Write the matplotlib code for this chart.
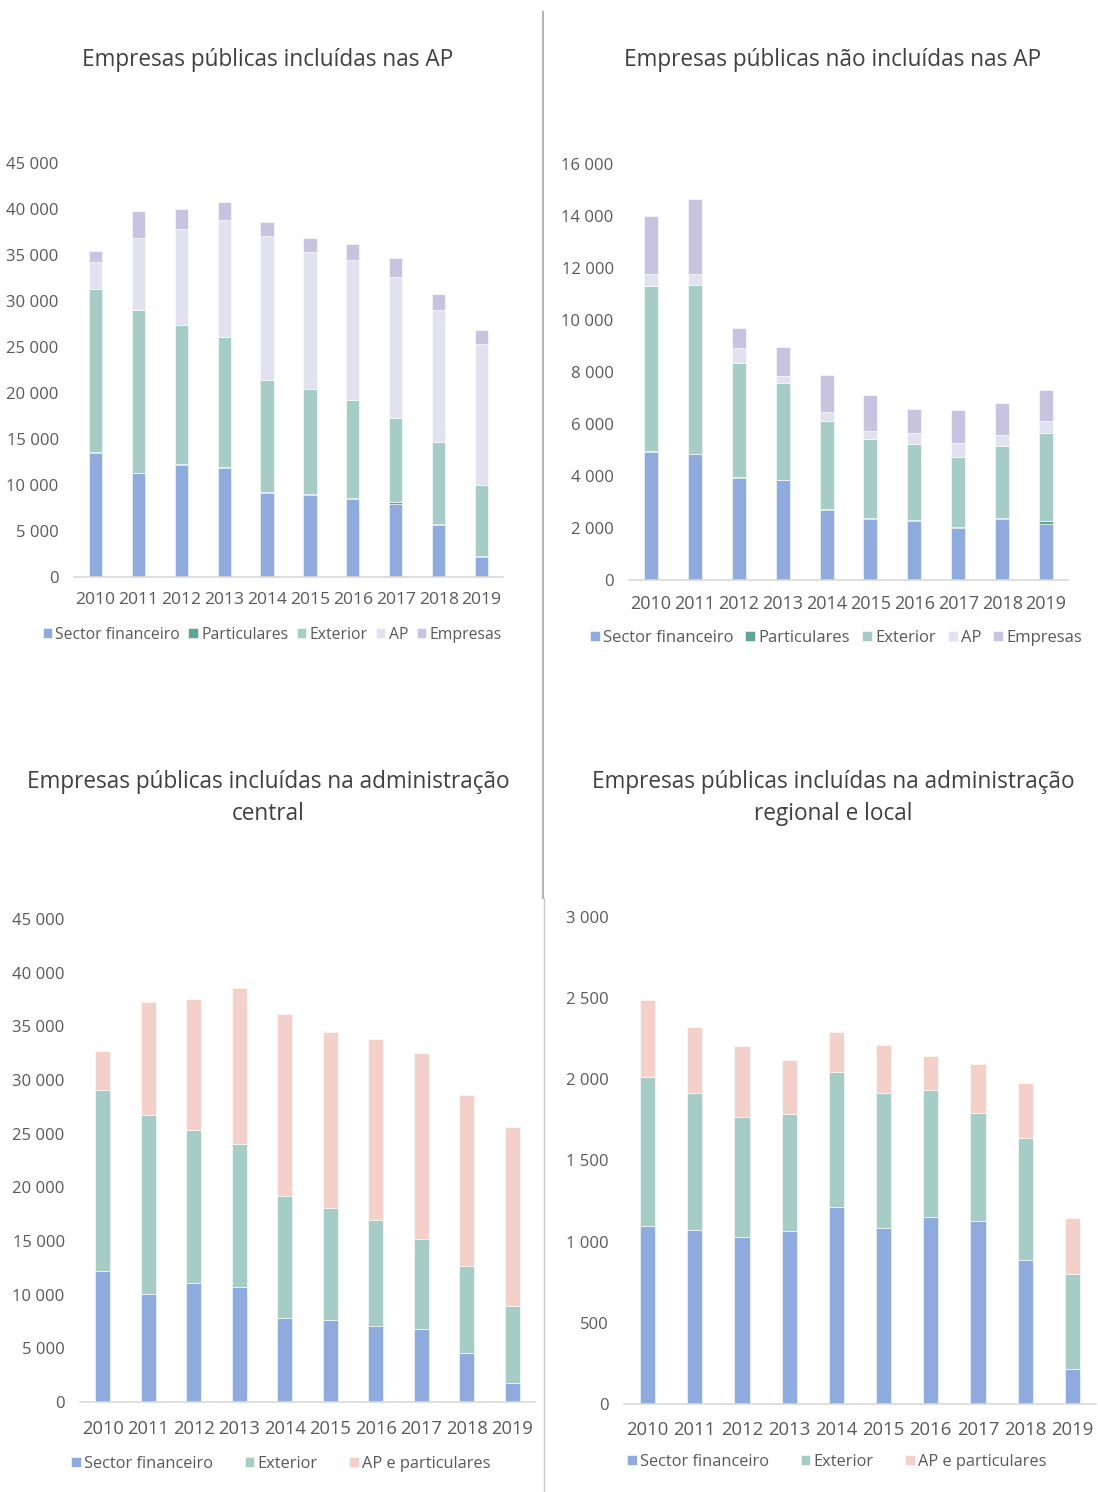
import matplotlib
matplotlib.use('Agg')
import matplotlib.pyplot as plt
from matplotlib.ticker import FuncFormatter, MultipleLocator
import numpy as np

#%% Data (values in units)
years = ['2010', '2011', '2012', '2013', '2014', '2015', '2016', '2017', '2018', '2019']

# Empresas públicas incluídas nas AP
ap_sector_fin = [13520, 11270, 12180, 11890, 9090, 8870, 8470, 7920, 5630, 2180]
ap_particulares = [50, 50, 150, 50, 140, 180, 110, 260, 110, 110]
ap_exterior = [17710, 17650, 15010, 14200, 12220, 11380, 10610, 9120, 8950, 7710]
ap_ap = [2940, 7930, 10460, 12650, 15590, 14870, 15310, 15300, 14310, 15370]
ap_empresas = [1170, 2900, 2150, 1960, 1600, 1560, 1700, 2100, 1720, 1490]

# Empresas públicas não incluídas nas AP
nap_sector_fin = [4940, 4850, 3910, 3850, 2710, 2360, 2270, 2000, 2360, 2140]
nap_particulares = [10, 10, 50, 10, 10, 10, 50, 30, 10, 120]
nap_exterior = [6360, 6490, 4400, 3700, 3410, 3050, 2910, 2710, 2780, 3380]
nap_ap = [460, 420, 550, 290, 330, 320, 420, 520, 410, 460]
nap_empresas = [2220, 2880, 800, 1100, 1410, 1380, 940, 1280, 1250, 1210]

# Administração central
ac_sector_fin = [12250, 10070, 11090, 10700, 7780, 7640, 7110, 6800, 4540, 1760]
ac_exterior = [16800, 16690, 14230, 13350, 11370, 10390, 9890, 8410, 8100, 7150]
ac_ap_part = [3630, 10530, 12220, 14510, 16980, 16410, 16800, 17330, 15920, 16690]

# Administração regional e local
arl_sector_fin = [1097, 1074, 1027, 1065, 1214, 1083, 1151, 1128, 887, 215]
arl_exterior = [920, 843, 740, 721, 834, 834, 785, 665, 752, 588]
arl_ap_part = [474, 404, 437, 334, 242, 296, 210, 304, 341, 341]

#%% Style
plt.rcParams['font.family'] = ['Open Sans', 'DejaVu Sans']
txt = '#595959'
ttl = '#404040'
c_sf = '#8faadc'
c_part = '#5fa597'
c_ext = '#a5cdc6'
c_ap = '#e2e1ef'
c_emp = '#c8c3de'
c_app = '#f4d0cb'

W, H = 1098, 1492
fig = plt.figure(figsize=(W / 100, H / 100), dpi=100)


def px_axes(x0, x1, y_top, y_bot):
    return fig.add_axes([x0 / W, 1 - y_bot / H, (x1 - x0) / W, (y_bot - y_top) / H])


def fmt(v, pos):
    return f'{int(v):,}'.replace(',', ' ')


def style(ax, ymax, step, xpad, xsize):
    ax.set_ylim(0, ymax)
    ax.set_xlim(-0.5, len(years) - 0.5)
    ax.yaxis.set_major_locator(MultipleLocator(step))
    ax.yaxis.set_major_formatter(FuncFormatter(fmt))
    for s in ['top', 'right', 'left']:
        ax.spines[s].set_visible(False)
    ax.spines['bottom'].set_color('#d9d9d9')
    ax.spines['bottom'].set_linewidth(1.2)
    ax.tick_params(length=0, labelsize=12, colors=txt)
    ax.tick_params(axis='x', pad=xpad, labelsize=xsize)
    ax.tick_params(axis='y', pad=11)
    ax.set_xticks(range(len(years)))
    ax.set_xticklabels(years)


def stack(ax, series, colors, labels, width):
    x = np.arange(len(years))
    bottom = np.zeros(len(years))
    for vals, col, lab in zip(series, colors, labels):
        ax.bar(x, vals, width, bottom=bottom, color=col, label=lab, edgecolor='white', linewidth=0.4)
        bottom += np.array(vals)


def legend(ax, cx, cy, colsp, fs):
    ax.legend(loc='center', bbox_to_anchor=(cx / W, 1 - cy / H), bbox_transform=fig.transFigure,
              ncol=5, frameon=False, fontsize=fs, handlelength=0.6, handleheight=0.6,
              handletextpad=0.2, columnspacing=colsp, labelcolor=txt, borderpad=0)


#%% Panel 1
ax1 = px_axes(74, 503, 163, 577)
stack(ax1, [ap_sector_fin, ap_particulares, ap_exterior, ap_ap, ap_empresas],
      [c_sf, c_part, c_ext, c_ap, c_emp],
      ['Sector financeiro', 'Particulares', 'Exterior', 'AP', 'Empresas'], 0.31)
style(ax1, 45000, 5000, 11, 12.6)
legend(ax1, 272, 635, 0.55, 11.3)
fig.text(268 / W, 1 - 60 / H, 'Empresas públicas incluídas nas AP', ha='center', va='center',
         fontsize=16.3, color=ttl)

#%% Panel 2
ax2 = px_axes(629, 1068, 164, 580)
stack(ax2, [nap_sector_fin, nap_particulares, nap_exterior, nap_ap, nap_empresas],
      [c_sf, c_part, c_ext, c_ap, c_emp],
      ['Sector financeiro', 'Particulares', 'Exterior', 'AP', 'Empresas'], 0.32)
style(ax2, 16000, 2000, 11, 13)
legend(ax2, 836, 638, 0.7, 12)
fig.text(833 / W, 1 - 60 / H, 'Empresas públicas não incluídas nas AP', ha='center', va='center',
         fontsize=16.3, color=ttl)

#%% Panel 3
ax3 = px_axes(80, 535, 919, 1402)
stack(ax3, [ac_sector_fin, ac_exterior, ac_ap_part], [c_sf, c_ext, c_app],
      ['Sector financeiro', 'Exterior', 'AP e particulares'], 0.34)
style(ax3, 45000, 5000, 13, 13.2)
legend(ax3, 281, 1464, 1.9, 11.8)
fig.text(268 / W, 1 - 798 / H, 'Empresas públicas incluídas na administração\ncentral',
         ha='center', va='center', fontsize=16.3, color=ttl, linespacing=1.45)

#%% Panel 4
ax4 = px_axes(624, 1096, 917, 1404)
stack(ax4, [arl_sector_fin, arl_exterior, arl_ap_part], [c_sf, c_ext, c_app],
      ['Sector financeiro', 'Exterior', 'AP e particulares'], 0.32)
style(ax4, 3000, 500, 12, 13.3)
legend(ax4, 837, 1462, 1.9, 11.8)
fig.text(833 / W, 1 - 798 / H, 'Empresas públicas incluídas na administração\nregional e local',
         ha='center', va='center', fontsize=16.3, color=ttl, linespacing=1.45)

#%% Divider
fig.add_artist(plt.Line2D([543 / W, 543 / W], [1 - 12 / H, 1 - 898 / H], color='#b4b4b4', lw=1.5))
fig.add_artist(plt.Line2D([543.5 / W, 543.5 / W], [1 - 898 / H, 0], color='#c8c8c8', lw=1.0))

fig.savefig('out.png', dpi=100)
